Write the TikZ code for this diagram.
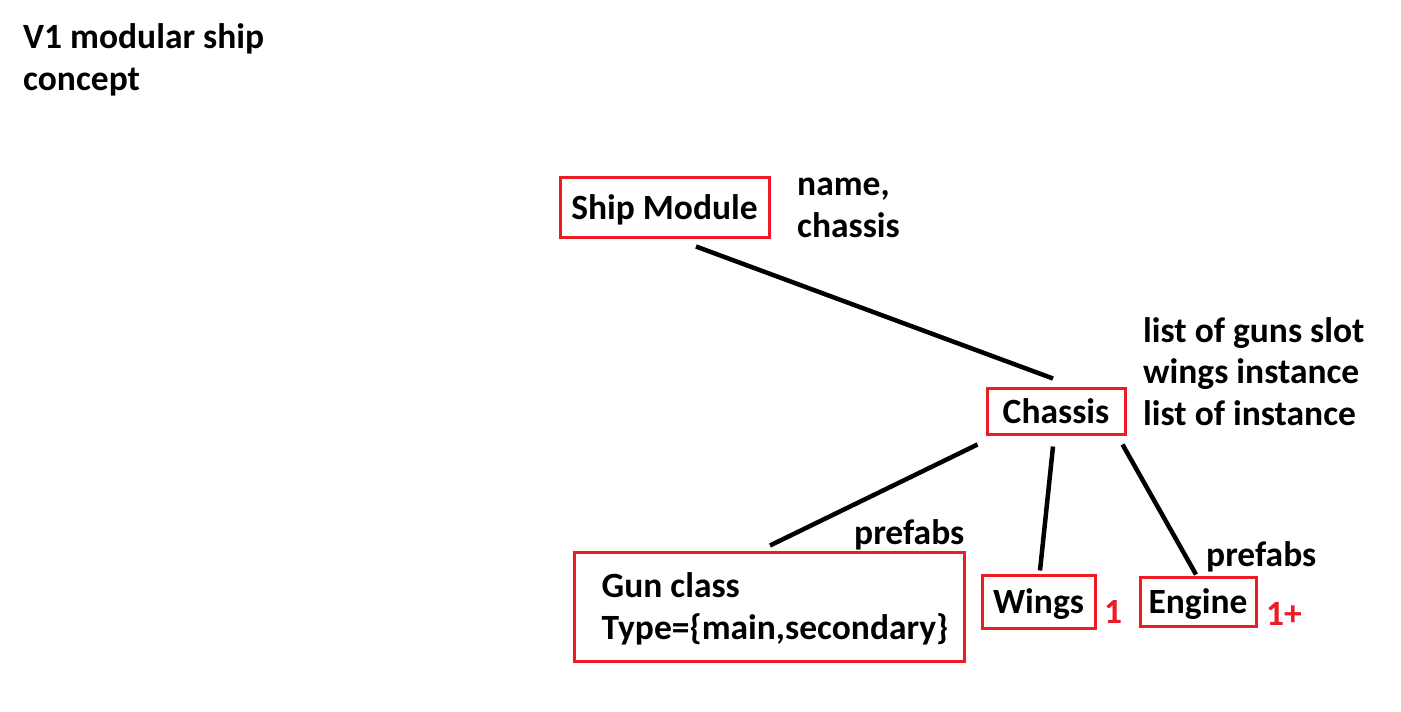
\documentclass[tikz,border=0pt]{standalone}
\usepackage{fontspec}
\setmainfont{Carlito}
\usetikzlibrary{calc}
\definecolor{mred}{RGB}{237,28,36}
\tikzset{
  box/.style={draw=mred, line width=3pt, inner sep=0pt, font=\fontsize{35.5}{42}\selectfont\bfseries},
  onebox/.style={box, text height=24pt, text depth=0pt},
  lbl/.style={inner sep=0pt, anchor=west, align=left, font=\fontsize{35.5}{41.5}\selectfont\bfseries},
  num/.style={inner sep=0pt, anchor=west, text=mred, font=\fontsize{35.5}{41}\selectfont\bfseries},
  link/.style={line width=4.5pt, black}
}
\begin{document}
\begin{tikzpicture}[x=1pt,y=-1pt]
\useasboundingbox (0,0) rectangle (1401,712);
\node[lbl] (title) at (23,60) {V1 modular ship\\concept};
\node[onebox, minimum width=209pt, minimum height=60pt] (ship) at (664.5,207) {Ship Module};
\node[lbl] (shipattr) at (797,208) {name,\\chassis};
\node[onebox, minimum width=138pt, minimum height=46pt] (chassis) at (1056,411) {Chassis};
\node[lbl] (chattr) at (1143,371.5) {list of guns slot\\wings instance\\list of instance};
\node[box, minimum width=390pt, minimum height=109pt, align=left, text depth=0pt] (gun) at (769,606.5) {\hspace*{12pt}Gun class\\\hspace*{12pt}Type=\{main,secondary\}};
\node[onebox, minimum width=113pt, minimum height=53pt] (wings) at (1038.5,601.5) {Wings};
\node[onebox, minimum width=116pt, minimum height=49pt] (engine) at (1198,601.5) {Engine};
\node[lbl] (pf1) at (854,535) {prefabs};
\node[lbl] (pf2) at (1206,557) {prefabs};
\node[num] (n1) at (1104,612) {1};
\node[num] (n2) at (1266,614) {1+};
\draw[link] ($(ship.south)+(31.5,8)$) -- ($(chassis.north)+(-3,-8)$);
\draw[link] ($(chassis.south west)+(-8,9)$) -- ($(gun.north)+(1,-5)$);
\draw[link] ($(chassis.south)+(-3,11)$) -- ($(wings.north)+(1.5,-3)$);
\draw[link] ($(chassis.south east)+(-4,9)$) -- ($(engine.north)+(-2,-1)$);
\end{tikzpicture}
\end{document}
